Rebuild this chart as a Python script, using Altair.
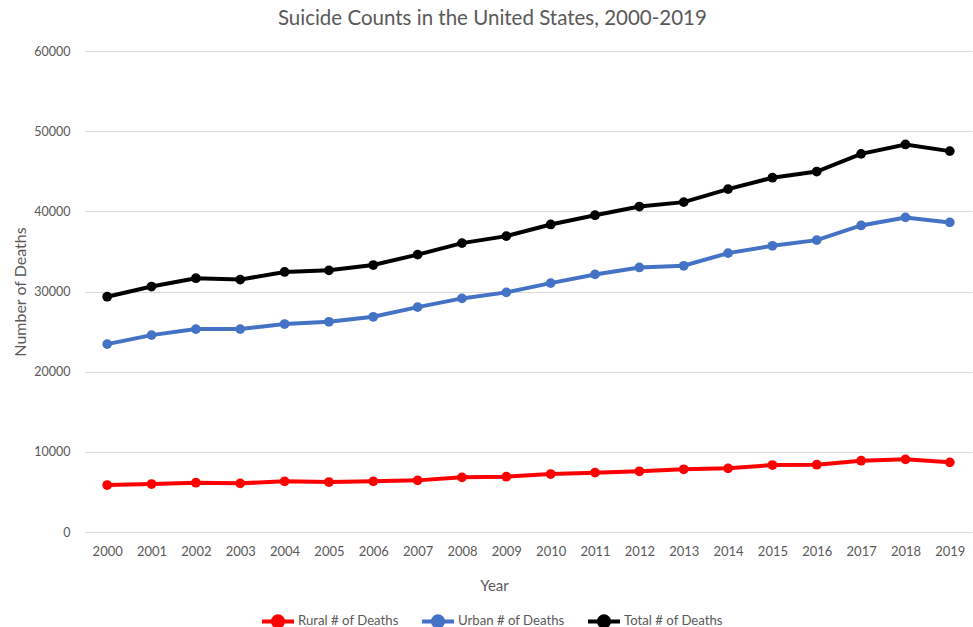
import altair as alt
import pandas as pd

years = [str(y) for y in range(2000, 2020)]
rural = [5860, 5985, 6150, 6070, 6320, 6230, 6320, 6440, 6820, 6900,
         7230, 7400, 7570, 7820, 7940, 8350, 8390, 8890, 9060, 8690]
urban = [23440, 24560, 25310, 25310, 25940, 26220, 26850, 28050, 29140, 29890,
         31050, 32130, 33000, 33210, 34790, 35700, 36410, 38240, 39240, 38620]
total = [29350, 30622, 31655, 31484, 32439, 32637, 33300, 34598, 36035, 36909,
         38364, 39518, 40600, 41149, 42773, 44193, 44965, 47173, 48344, 47511]
series = ["Rural # of Deaths", "Urban # of Deaths", "Total # of Deaths"]
colors = ["#ff0000", "#4472c4", "#000000"]

rows = []
for name, vals in zip(series, [rural, urban, total]):
    for y, v in zip(years, vals):
        rows.append({"Year": y, "Deaths": v, "Series": name})
df = pd.DataFrame(rows)

FONT = "Lato"
GREY = "#595959"

color = alt.Color(
    "Series:N",
    scale=alt.Scale(domain=series, range=colors),
    sort=series,
    legend=alt.Legend(
        title=None,
        orient="none",
        direction="horizontal",
        legendX=175,
        legendY=552,
        symbolType="M -1 0 L 1 0 M 0.32 0 A 0.32 0.32 0 1 1 -0.32 0 A 0.32 0.32 0 1 1 0.32 0 Z",
        symbolSize=1024,
        symbolStrokeWidth=4,
        symbolOffset=0,
        labelFont=FONT,
        labelFontSize=13.2,
        labelColor=GREY,
        labelOffset=2,
        columnPadding=15,
        padding=0,
    ),
)

x = alt.X(
    "Year:N",
    sort=years,
    scale=alt.Scale(type="point", padding=0.5),
    axis=alt.Axis(
        title="Year",
        labelAngle=0,
        ticks=False,
        domain=False,
        grid=False,
        labelFont=FONT,
        labelFontSize=13,
        labelColor=GREY,
        labelPadding=13,
        titleFont=FONT,
        titleFontSize=15,
        titleFontWeight="normal",
        titleColor=GREY,
        titlePadding=20,
        titleX=409,
    ),
)
y = alt.Y(
    "Deaths:Q",
    scale=alt.Scale(domain=[0, 60000]),
    axis=alt.Axis(
        title="Number of Deaths",
        values=[0, 10000, 20000, 30000, 40000, 50000, 60000],
        format="d",
        ticks=False,
        domain=False,
        gridColor="#d9d9d9",
        gridWidth=1,
        labelFont=FONT,
        labelFontSize=12.5,
        labelColor=GREY,
        labelPadding=15,
        titleFont=FONT,
        titleFontSize=16,
        titleFontWeight="normal",
        titleColor=GREY,
        titlePadding=5,
    ),
)

base = alt.Chart(df)
lines = base.mark_line(strokeWidth=4).encode(x=x, y=y, color=color, detail="Series:N")
points = base.mark_point(filled=True, size=95, opacity=1).encode(x=x, y=y, color=color)

chart = (
    alt.layer(lines, points)
    .properties(
        width=887,
        height=481,
        background="white",
        padding={"left": 85, "top": 51, "right": 1, "bottom": 95},
        autosize=alt.AutoSizeParams(type="none"),
        title=alt.TitleParams(
            "Suicide Counts in the United States, 2000-2019",
            font=FONT,
            fontSize=20.5,
            fontWeight="normal",
            color=GREY,
            anchor="middle",
            frame="bounds",
            offset=16,
        ),
    )
    .configure_view(strokeWidth=0, stroke="transparent")
    .configure_axisX(grid=False)
)

chart.save("out.html", embed_options={"renderer": "svg", "actions": False})
